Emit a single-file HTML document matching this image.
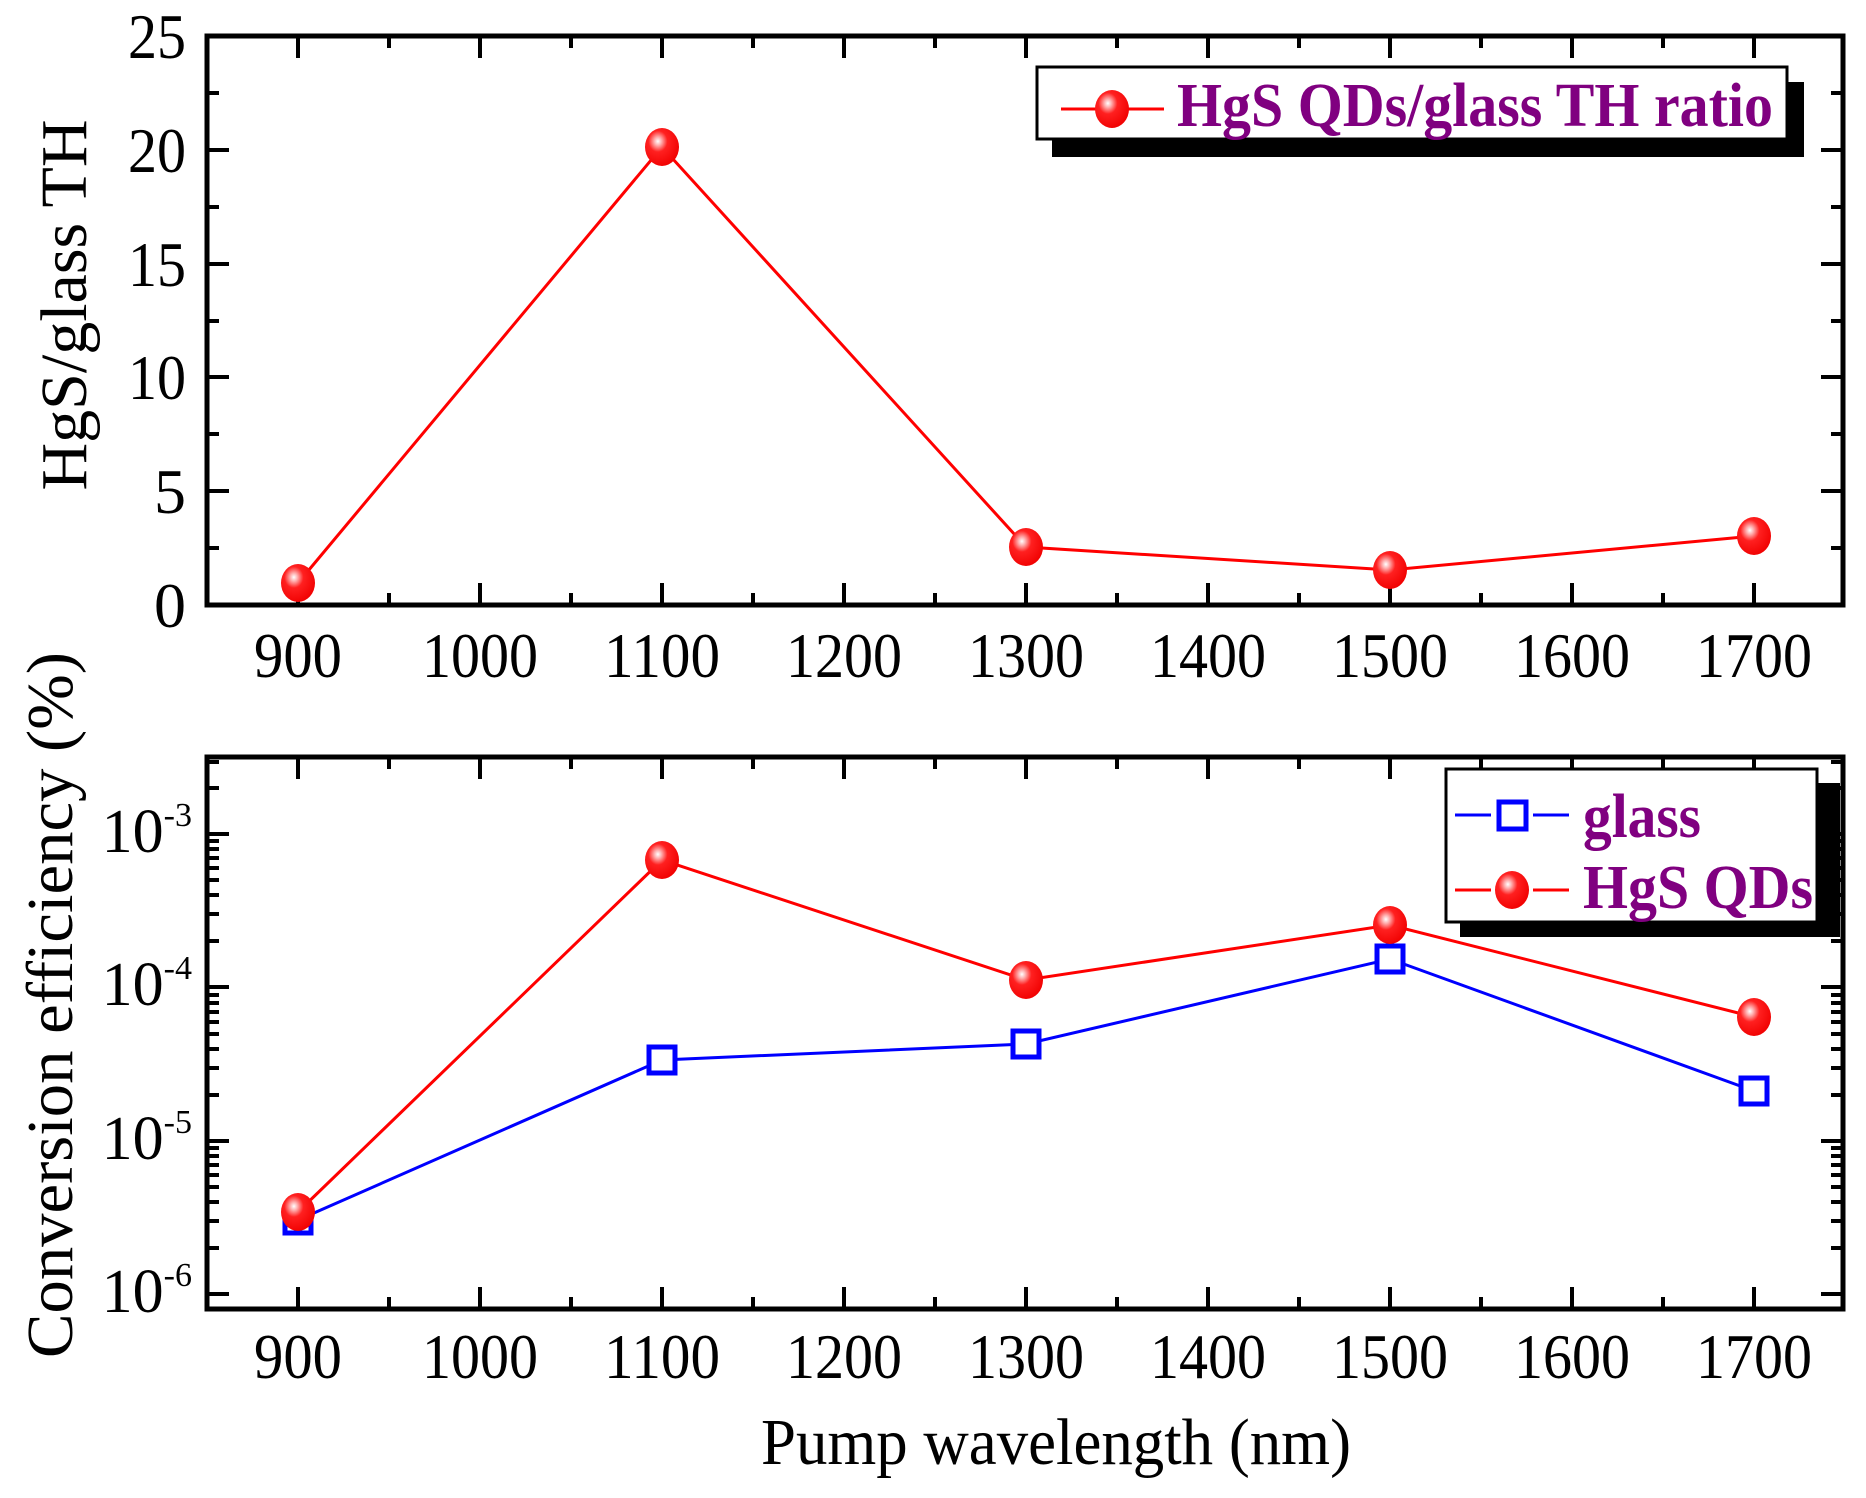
<!DOCTYPE html>
<html><head><meta charset="utf-8"><style>html,body{margin:0;padding:0;background:#fff}svg{display:block}</style></head>
<body>
<svg width="1866" height="1498" viewBox="0 0 1866 1498" xmlns="http://www.w3.org/2000/svg" font-family="'Liberation Serif', serif">
<defs>
<radialGradient id="sp" cx="0.38" cy="0.35" r="0.7">
<stop offset="0" stop-color="#fff"/><stop offset="0.15" stop-color="#ffb0b0"/><stop offset="0.4" stop-color="#ff2020"/><stop offset="1" stop-color="#f00000"/>
</radialGradient>
<g id="m"><ellipse rx="17" ry="19" fill="url(#sp)"/></g>
</defs>
<g stroke="#000" stroke-width="5" fill="none">
<rect x="207" y="36" width="1636" height="569"/>
<rect x="207" y="757" width="1636" height="552"/>
</g>
<g stroke="#000" stroke-width="4">
<path d="M298,605v-22M480,605v-22M662,605v-22M844,605v-22M1026,605v-22M1208,605v-22M1390,605v-22M1572,605v-22M1754,605v-22
M389,605v-12M571,605v-12M753,605v-12M935,605v-12M1117,605v-12M1299,605v-12M1481,605v-12M1663,605v-12
M298,36v22M480,36v22M662,36v22M844,36v22M1026,36v22M1208,36v22M1390,36v22M1572,36v22M1754,36v22
M389,36v12M571,36v12M753,36v12M935,36v12M1117,36v12M1299,36v12M1481,36v12M1663,36v12"/>
<path d="M207,605h22M207,491h22M207,377h22M207,264h22M207,150h22M207,36h22
M207,548h12M207,434h12M207,321h12M207,207h12M207,93h12
M1843,605h-22M1843,491h-22M1843,377h-22M1843,264h-22M1843,150h-22
M1843,548h-12M1843,434h-12M1843,321h-12M1843,207h-12M1843,93h-12"/>
<path d="M298,1309v-22M480,1309v-22M662,1309v-22M844,1309v-22M1026,1309v-22M1208,1309v-22M1390,1309v-22M1572,1309v-22M1754,1309v-22
M389,1309v-12M571,1309v-12M753,1309v-12M935,1309v-12M1117,1309v-12M1299,1309v-12M1481,1309v-12M1663,1309v-12
M298,757v22M480,757v22M662,757v22M844,757v22M1026,757v22M1208,757v22M1390,757v22M1572,757v22M1754,757v22
M389,757v12M571,757v12M753,757v12M935,757v12M1117,757v12M1299,757v12M1481,757v12M1663,757v12"/>
<path d="M207,834h22M207,987h22M207,1141h22M207,1294h22M1843,834h-22M1843,987h-22M1843,1141h-22M1843,1294h-22
M207,788h12M207,762h12M1843,788h-12M1843,762h-12
M207,941h12M207,914h12M207,895h12M207,880h12M207,868h12M207,858h12M207,849h12M207,841h12
M1843,941h-12M1843,914h-12M1843,895h-12M1843,880h-12M1843,868h-12M1843,858h-12M1843,849h-12M1843,841h-12
M207,1095h12M207,1068h12M207,1049h12M207,1034h12M207,1022h12M207,1012h12M207,1003h12M207,995h12
M1843,1095h-12M1843,1068h-12M1843,1049h-12M1843,1034h-12M1843,1022h-12M1843,1012h-12M1843,1003h-12M1843,995h-12
M207,1248h12M207,1221h12M207,1202h12M207,1187h12M207,1175h12M207,1165h12M207,1156h12M207,1148h12
M1843,1248h-12M1843,1221h-12M1843,1202h-12M1843,1187h-12M1843,1175h-12M1843,1165h-12M1843,1156h-12M1843,1148h-12"/>
</g>
<g font-size="64" fill="#000" text-anchor="middle">
<text x="298" y="677" textLength="88" lengthAdjust="spacingAndGlyphs">900</text><text x="480" y="677" textLength="116" lengthAdjust="spacingAndGlyphs">1000</text><text x="662" y="677" textLength="116" lengthAdjust="spacingAndGlyphs">1100</text><text x="844" y="677" textLength="116" lengthAdjust="spacingAndGlyphs">1200</text><text x="1026" y="677" textLength="116" lengthAdjust="spacingAndGlyphs">1300</text><text x="1208" y="677" textLength="116" lengthAdjust="spacingAndGlyphs">1400</text><text x="1390" y="677" textLength="116" lengthAdjust="spacingAndGlyphs">1500</text><text x="1572" y="677" textLength="116" lengthAdjust="spacingAndGlyphs">1600</text><text x="1754" y="677" textLength="116" lengthAdjust="spacingAndGlyphs">1700</text>
<text x="298" y="1378" textLength="88" lengthAdjust="spacingAndGlyphs">900</text><text x="480" y="1378" textLength="116" lengthAdjust="spacingAndGlyphs">1000</text><text x="662" y="1378" textLength="116" lengthAdjust="spacingAndGlyphs">1100</text><text x="844" y="1378" textLength="116" lengthAdjust="spacingAndGlyphs">1200</text><text x="1026" y="1378" textLength="116" lengthAdjust="spacingAndGlyphs">1300</text><text x="1208" y="1378" textLength="116" lengthAdjust="spacingAndGlyphs">1400</text><text x="1390" y="1378" textLength="116" lengthAdjust="spacingAndGlyphs">1500</text><text x="1572" y="1378" textLength="116" lengthAdjust="spacingAndGlyphs">1600</text><text x="1754" y="1378" textLength="116" lengthAdjust="spacingAndGlyphs">1700</text>
</g>
<g font-size="64" fill="#000" text-anchor="end">
<text x="186" y="627">0</text><text x="186" y="513">5</text><text x="186" y="399" textLength="58" lengthAdjust="spacingAndGlyphs">10</text><text x="186" y="286" textLength="58" lengthAdjust="spacingAndGlyphs">15</text><text x="186" y="172" textLength="58" lengthAdjust="spacingAndGlyphs">20</text><text x="186" y="58" textLength="58" lengthAdjust="spacingAndGlyphs">25</text>
</g>
<g font-size="62" fill="#000" text-anchor="end">
<text x="192" y="852">10<tspan font-size="34" dy="-26">-3</tspan></text>
<text x="192" y="1005">10<tspan font-size="34" dy="-26">-4</tspan></text>
<text x="192" y="1159">10<tspan font-size="34" dy="-26">-5</tspan></text>
<text x="192" y="1312">10<tspan font-size="34" dy="-26">-6</tspan></text>
</g>
<text transform="translate(86,305) rotate(-90)" font-size="66" text-anchor="middle" textLength="371" lengthAdjust="spacingAndGlyphs">HgS/glass TH</text>
<text transform="translate(72,1005) rotate(-90)" font-size="66" text-anchor="middle" textLength="706" lengthAdjust="spacingAndGlyphs">Conversion efficiency (%)</text>
<text x="1056" y="1464" font-size="66" text-anchor="middle" textLength="590" lengthAdjust="spacingAndGlyphs">Pump wavelength (nm)</text>
<polyline points="298,583 662,147 1026,547 1390,570 1754,536" fill="none" stroke="#f00" stroke-width="3"/>
<use href="#m" x="298" y="583"/><use href="#m" x="662" y="147"/><use href="#m" x="1026" y="547"/><use href="#m" x="1390" y="570"/><use href="#m" x="1754" y="536"/>
<polyline points="298,1220 662,1060 1026,1044 1390,959 1754,1091" fill="none" stroke="#00f" stroke-width="3"/>
<polyline points="298,1212 662,860 1026,980 1390,925 1754,1017" fill="none" stroke="#f00" stroke-width="3"/>
<g fill="#fff" stroke="#00f" stroke-width="5">
<rect x="285" y="1207" width="26" height="26"/><rect x="649" y="1047" width="26" height="26"/><rect x="1013" y="1031" width="26" height="26"/><rect x="1377" y="946" width="26" height="26"/><rect x="1741" y="1078" width="26" height="26"/>
</g>
<use href="#m" x="298" y="1212"/><use href="#m" x="662" y="860"/><use href="#m" x="1026" y="980"/><use href="#m" x="1390" y="925"/><use href="#m" x="1754" y="1017"/>
<rect x="1052" y="82" width="752" height="75" fill="#000"/>
<rect x="1037" y="67" width="750" height="72" fill="#fff" stroke="#000" stroke-width="3"/>
<path d="M1061,109h36M1128,109h36" stroke="#f00" stroke-width="3"/>
<use href="#m" x="1112" y="109"/>
<text x="1177" y="126" font-size="62" font-weight="bold" fill="#800080" textLength="596" lengthAdjust="spacingAndGlyphs">HgS QDs/glass TH ratio</text>
<rect x="1460" y="783" width="380" height="154" fill="#000"/>
<rect x="1446" y="769" width="371" height="153" fill="#fff" stroke="#000" stroke-width="3"/>
<path d="M1455,815h36M1533,815h36" stroke="#00f" stroke-width="3"/>
<rect x="1499" y="802" width="27" height="27" fill="#fff" stroke="#00f" stroke-width="5"/>
<path d="M1455,890h36M1533,890h36" stroke="#f00" stroke-width="3"/>
<use href="#m" x="1512" y="890"/>
<text x="1583" y="837" font-size="62" font-weight="bold" fill="#800080" textLength="118" lengthAdjust="spacingAndGlyphs">glass</text>
<text x="1583" y="908" font-size="62" font-weight="bold" fill="#800080" textLength="230" lengthAdjust="spacingAndGlyphs">HgS QDs</text>
</svg>
</body></html>
